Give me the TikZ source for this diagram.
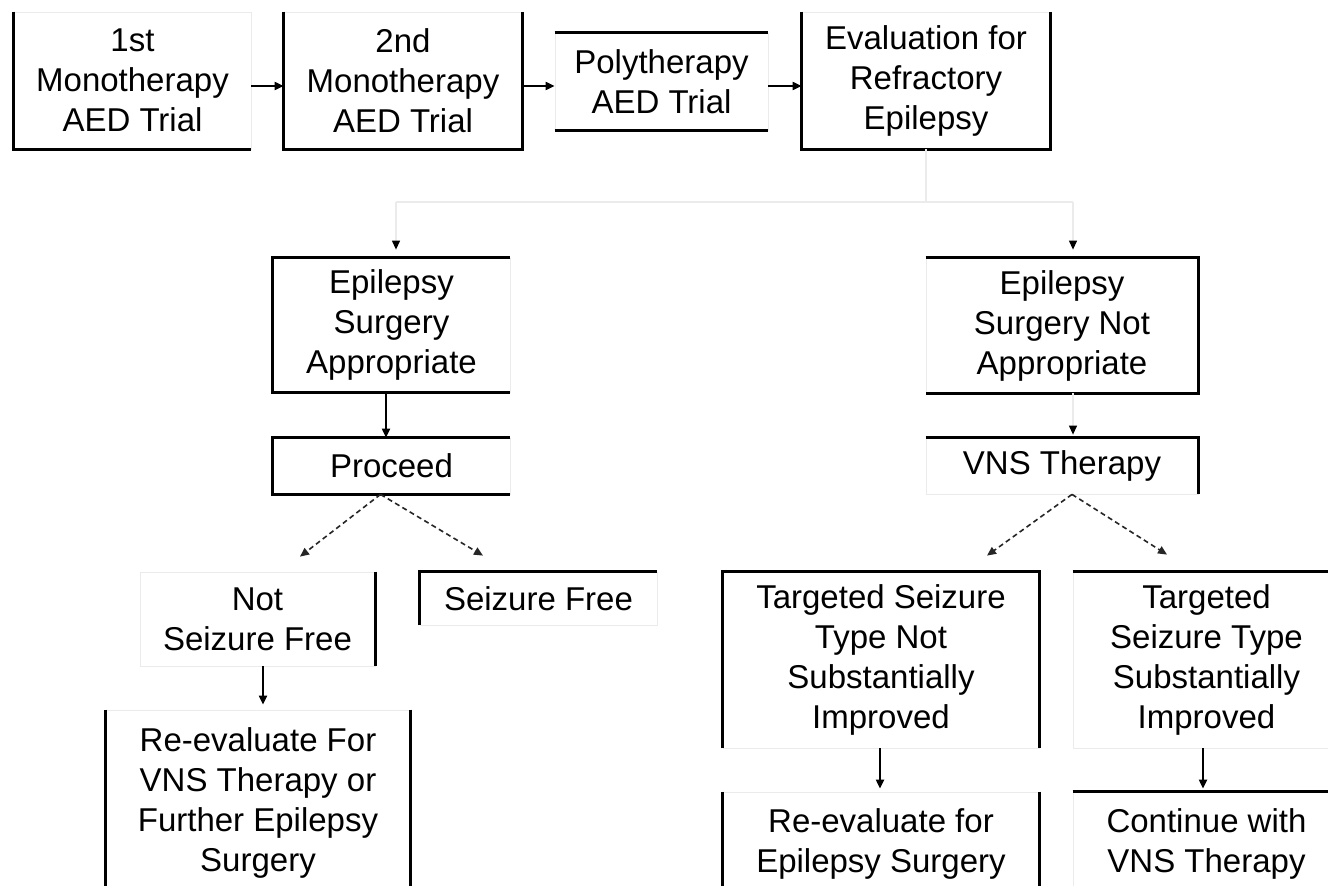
\documentclass[tikz,border=0pt]{standalone}
\usepackage{fontspec}
\setmainfont{Liberation Sans}
\usetikzlibrary{arrows.meta}
\begin{document}
\begin{tikzpicture}[x=1pt,y=-1pt,
  box/.style={draw=black!8, line width=0.8pt, rectangle, inner sep=0pt, align=center,
              font=\fontsize{33}{40}\selectfont},
  side/.style={line width=2.4pt, black},
  arr/.style={line width=2pt, black, -{Triangle[length=9pt,width=8pt]}},
  dsh/.style={line width=1.6pt, black!85, dash pattern=on 5pt off 3.5pt, -{Triangle[length=9pt,width=8pt]}},
  faint/.style={line width=1.2pt, black!8},
  ftip/.style={-{Triangle[length=9pt,width=8pt,color=black]}},
]
\useasboundingbox[fill=white] (0,0) rectangle (1328,886);

% top row
\node[box, minimum width=237pt, minimum height=137pt] (b1) at (132.5,80.5) {1st\\Monotherapy\\AED Trial};
\node[box, minimum width=238pt, minimum height=137pt] (b2) at (403,80.5) {2nd\\Monotherapy\\AED Trial};
\node[box, minimum width=213pt, minimum height=97pt] (poly) at (661.5,81.5) {Polytherapy\\AED Trial};
\node[box, minimum width=248pt, minimum height=137pt] (ev) at (926,80.5) {Evaluation for\\Refractory\\Epilepsy};

% second level
\node[box, minimum width=237pt, minimum height=134pt] (esa) at (391.5,325) {Epilepsy\\Surgery\\Appropriate};
\node[box, minimum width=237pt, minimum height=56pt] (proc) at (391.5,466) {Proceed};
\node[box, minimum width=272pt, minimum height=135pt] (esna) at (1062,325.5) {Epilepsy\\Surgery Not\\Appropriate};
\node[box, minimum width=272pt, minimum height=56pt] (vns) at (1062,466) {VNS Therapy};

% third level
\node[box, minimum width=235pt, minimum height=94pt] (nsf) at (257.5,619) {Not\\Seizure Free};
\node[box, minimum width=237pt, minimum height=53pt] (sf) at (538.5,598.5) {Seizure Free};
\node[box, minimum width=304pt, minimum height=185pt] (refor) at (258,802.5) {Re-evaluate For\\VNS Therapy or\\Further Epilepsy\\Surgery};
\node[box, minimum width=316pt, minimum height=176pt] (tsnsi) at (881,660) {Targeted Seizure\\Type Not\\Substantially\\Improved};
\node[box, minimum width=267pt, minimum height=176pt] (tssi) at (1206.5,660) {Targeted\\Seizure Type\\Substantially\\Improved};
\node[box, minimum width=316pt, minimum height=103pt] (rees) at (881,843.5) {Re-evaluate for\\Epilepsy Surgery};
\node[box, minimum width=267pt, minimum height=103pt] (cont) at (1206.5,843.5) {Continue with\\VNS Therapy};

% visible sides
\draw[side] (b1.north west) -- (b1.south west) -- (b1.south east);
\draw[side] (b2.north west) -- (b2.south west) -- (b2.south east) -- (b2.north east);
\draw[side] (poly.north west) -- (poly.north east);
\draw[side] (poly.south west) -- (poly.south east);
\draw[side] (ev.north west) -- (ev.south west) -- (ev.south east) -- (ev.north east);
\draw[side] (esa.north east) -- (esa.north west) -- (esa.south west) -- (esa.south east);
\draw[side] (proc.north east) -- (proc.north west) -- (proc.south west) -- (proc.south east);
\draw[side] (esna.north west) -- (esna.north east) -- (esna.south east) -- (esna.south west);
\draw[side] (vns.north west) -- (vns.north east) -- (vns.south east);
\draw[side] (nsf.north east) -- (nsf.south east);
\draw[side] (sf.south west) -- (sf.north west) -- (sf.north east);
\draw[side] (refor.north west) -- (refor.south west);
\draw[side] (refor.north east) -- (refor.south east);
\draw[side] (tsnsi.south west) -- (tsnsi.north west) -- (tsnsi.north east) -- (tsnsi.south east);
\draw[side] (tssi.north west) -- (tssi.north east);
\draw[side] (rees.north west) -- (rees.south west);
\draw[side] (rees.north east) -- (rees.south east);
\draw[side] (cont.north west) -- (cont.north east);

% top row arrows
\coordinate (ay) at (0,86);
\draw[arr] (b1.east |- ay) -- (b2.west |- ay);
\draw[arr] (b2.east |- ay) -- (poly.west |- ay);
\draw[arr] (poly.east |- ay) -- (ev.west |- ay);

% evaluation split (faint lines, dark tips)
\coordinate (jy) at (0,202);
\coordinate (jl) at (396,202);
\coordinate (jr) at (1073,202);
\draw[faint] (ev.south) -- (ev.south |- jy);
\draw[faint] (jl) -- (jr);
\draw[faint, ftip, shorten >=8pt] (jl) -- (jl |- esa.north);
\draw[faint, ftip, shorten >=8pt] (jr) -- (jr |- esna.north);
\draw[faint, ftip, shorten >=3pt] (esna.south -| jr) -- (vns.north -| jr);

% left branch
\coordinate (px) at (386,0);
\draw[arr] (esa.south -| px) -- (proc.north -| px);
\draw[dsh] ([xshift=-11pt]proc.south) -- ([xshift=42.5pt,yshift=15pt]nsf.north);
\draw[dsh] ([xshift=-11pt]proc.south) -- ([xshift=-55.5pt,yshift=16pt]sf.north);
\coordinate (nx) at (263,0);
\draw[arr, shorten >=5pt] (nsf.south -| nx) -- (refor.north -| nx);

% right branch
\draw[dsh] ([xshift=10pt]vns.south) -- ([xshift=106pt,yshift=16pt]tsnsi.north);
\draw[dsh] ([xshift=10pt]vns.south) -- ([xshift=-39.5pt,yshift=17pt]tssi.north);
\coordinate (tx) at (880,0);
\coordinate (ux) at (1203,0);
\draw[arr, shorten >=3pt] (tsnsi.south -| tx) -- (rees.north -| tx);
\draw[arr, shorten >=3pt] (tssi.south -| ux) -- (cont.north -| ux);
\end{tikzpicture}
\end{document}
